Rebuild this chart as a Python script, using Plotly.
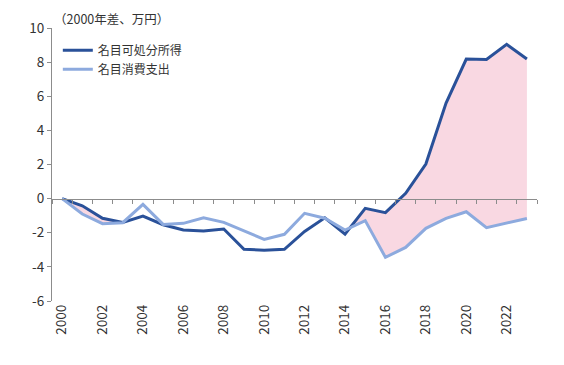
import plotly.graph_objects as go

years = list(range(2000, 2024))
income = [0, -0.42, -1.15, -1.40, -1.02, -1.53, -1.84, -1.90, -1.78, -2.97, -3.02, -2.97,
          -1.92, -1.12, -2.08, -0.57, -0.82, 0.31, 2.03, 5.60, 8.18, 8.16, 9.04, 8.18]
spending = [0, -0.90, -1.47, -1.41, -0.34, -1.51, -1.45, -1.12, -1.39, -1.90, -2.39, -2.09,
            -0.86, -1.15, -1.84, -1.29, -3.44, -2.86, -1.74, -1.16, -0.77, -1.70, -1.41, -1.16]
income_name = "名目可処分所得"
spending_name = "名目消費支出"
unit_label = "（2000年差、万円）"
y_ticks = [-6, -4, -2, 0, 2, 4, 6, 8, 10]
y_ticktext = ["-6", "-4", "-2", "0", "2", "4", "6", "8", "10"]
x_ticks = list(range(2000, 2023, 2))

DARK = "#2A5199"
LIGHT = "#8DAADE"
PINK = "#F9D8E2"
FONT = "Noto Sans CJK JP"
TXT = "#333333"
AX = "#8C8C8C"

upper = [max(a, b) for a, b in zip(income, spending)]

fig = go.Figure()
fig.add_trace(go.Scatter(x=years, y=spending, mode="lines", line=dict(width=0, color=PINK),
                         showlegend=False, hoverinfo="skip"))
fig.add_trace(go.Scatter(x=years, y=upper, mode="lines", line=dict(width=1, color="white"),
                         fill="tonexty", fillcolor=PINK, showlegend=False, hoverinfo="skip"))
fig.add_trace(go.Scatter(x=years, y=income, mode="lines", name=income_name,
                         line=dict(color=DARK, width=3)))
fig.add_trace(go.Scatter(x=years, y=spending, mode="lines", name=spending_name,
                         line=dict(color=LIGHT, width=3)))
# invisible trace for the zero-line axis
fig.add_trace(go.Scatter(x=[years[0]], y=[0], mode="markers", marker=dict(opacity=0),
                         xaxis="x2", showlegend=False, hoverinfo="skip"))

fig.update_layout(
    width=564, height=365,
    margin=dict(l=44, r=35, t=20, b=72),
    paper_bgcolor="white", plot_bgcolor="white",
    font=dict(family=FONT, size=13, color=TXT),
    xaxis=dict(range=[1999.5, 2023.5], tickvals=x_ticks, tickangle=-90,
               showline=False, ticks="", showgrid=False, zeroline=False, automargin=False,
               tickfont=dict(size=13.5, color=TXT)),
    xaxis2=dict(range=[1999.5, 2023.5], overlaying="x", anchor="free", position=0.375,
                showline=True, linecolor=AX, linewidth=1.2, ticks="outside", ticklen=4,
                tickcolor=AX, tickvals=[y - 0.5 for y in years] + [2023.5], showticklabels=False,
                showgrid=False, zeroline=False, automargin=False),
    yaxis=dict(range=[-6, 10], tickvals=y_ticks, ticktext=y_ticktext, showline=True,
               linecolor=AX, linewidth=1.2, ticks="outside", ticklen=4, tickcolor=AX,
               showgrid=False, zeroline=False, automargin=False,
               tickfont=dict(size=13.5, color=TXT)),
    legend=dict(x=0.012, y=0.972, xanchor="left", yanchor="top", bgcolor="rgba(0,0,0,0)",
                font=dict(size=12, color=TXT), tracegroupgap=0, itemwidth=30,
                traceorder="normal"),
    annotations=[dict(text=unit_label, xref="paper", yref="paper", x=0.0, y=1.035,
                      xanchor="left", yanchor="middle", showarrow=False,
                      font=dict(size=12.5, color=TXT))],
)

fig.write_html("out.html")
